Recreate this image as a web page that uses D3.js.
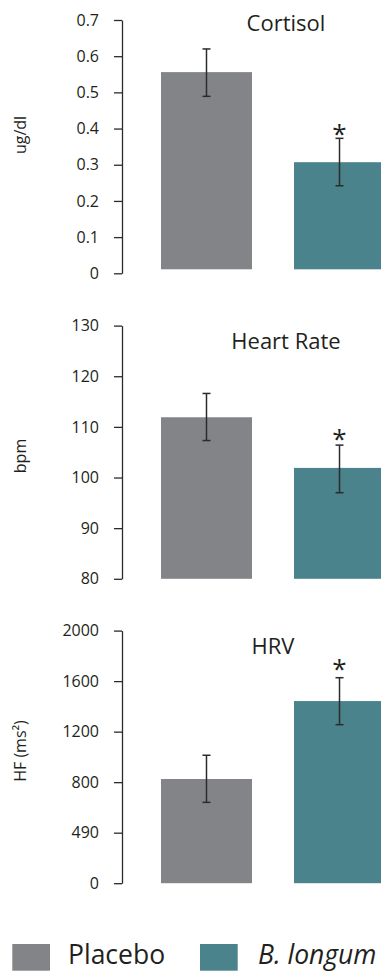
<!DOCTYPE html>
<html>
<head>
<meta charset="utf-8">
<script src="https://cdn.jsdelivr.net/npm/d3@7"></script>
<style>
  html, body { margin: 0; padding: 0; background: #fff; }
  svg { display: block; }
  text { font-family: "Open Sans", sans-serif; fill: #231f20; }
</style>
</head>
<body>
<svg id="chart" width="381" height="971"></svg>
<script>
// ---------- DATA ----------
const groups = ["Placebo", "B. longum"];
const panelTitles = ["Cortisol", "Heart Rate", "HRV"];
const yAxisLabels = ["ug/dl", "bpm", "HF (ms²)"];

const cortisolMean = [0.556, 0.307];
const cortisolLow  = [0.489, 0.242];
const cortisolHigh = [0.620, 0.373];

const heartRateMean = [111.9, 101.9];
const heartRateLow  = [107.3, 97.0];
const heartRateHigh = [116.6, 106.4];

const hrvMean = [825, 1442];
const hrvLow  = [640, 1255];
const hrvHigh = [1013, 1627];

const significant = [false, true];

const cortisolTicks = [0, 0.1, 0.2, 0.3, 0.4, 0.5, 0.6, 0.7];
const cortisolTickLabels = ["0", "0.1", "0.2", "0.3", "0.4", "0.5", "0.6", "0.7"];
const heartRateTicks = [80, 90, 100, 110, 120, 130];
const heartRateTickLabels = ["80", "90", "100", "110", "120", "130"];
const hrvTicks = [0, 400, 800, 1200, 1600, 2000];
const hrvTickLabels = ["0", "490", "800", "1200", "1600", "2000"];

// ---------- LAYOUT / STYLE ----------
const colors = ["#838488", "#4a838b"];
const panels = [
  { mean: cortisolMean, low: cortisolLow, high: cortisolHigh, ticks: cortisolTicks, labels: cortisolTickLabels,
    top: 20, bottom: 273.3, inset: 4, titleX: 286, titleY: 31, labelY: 135, starGap: 1 },
  { mean: heartRateMean, low: heartRateLow, high: heartRateHigh, ticks: heartRateTicks, labels: heartRateTickLabels,
    top: 325.6, bottom: 578.8, inset: 0, titleX: 286, titleY: 349, labelY: 456, starGap: 3.5 },
  { mean: hrvMean, low: hrvLow, high: hrvHigh, ticks: hrvTicks, labels: hrvTickLabels,
    top: 630.6, bottom: 883.2, inset: 0, titleX: 273, titleY: 654, labelY: 751, starGap: 6 }
];
const axisX = 122;

const svg = d3.select("#chart");

const x = d3.scaleBand().domain(groups).range([161, 385]).paddingInner(0.316).paddingOuter(0);

panels.forEach((p, pi) => {
  const y = d3.scaleLinear()
    .domain([p.ticks[0], p.ticks[p.ticks.length - 1]])
    .range([p.bottom, p.top]);

  const g = svg.append("g");

  // axis
  const axis = d3.axisLeft(y)
    .tickValues(p.ticks)
    .tickFormat((d, i) => p.labels[i])
    .tickSize(8)
    .tickSizeOuter(0)
    .tickPadding(15);
  const ag = g.append("g").attr("transform", `translate(${axisX},0)`).call(axis);
  ag.select(".domain").attr("stroke", "#2b2b2b").attr("stroke-width", 1.3);
  ag.selectAll(".tick line").attr("stroke", "#2b2b2b").attr("stroke-width", 1.3);
  ag.selectAll(".tick text")
    .attr("font-family", "Open Sans, sans-serif")
    .attr("font-size", 16)
    .attr("fill", "#231f20");

  // y label
  g.append("text")
    .attr("transform", `translate(26,${p.labelY}) rotate(-90)`)
    .attr("text-anchor", "middle")
    .attr("font-size", 16)
    .text(yAxisLabels[pi]);

  // title
  g.append("text")
    .attr("x", p.titleX)
    .attr("y", p.titleY)
    .attr("text-anchor", "middle")
    .attr("font-size", 22)
    .text(panelTitles[pi]);

  // bars
  const base = y(p.ticks[0]) - p.inset;
  g.selectAll("rect.bar")
    .data(groups)
    .join("rect")
    .attr("class", "bar")
    .attr("x", d => x(d))
    .attr("width", x.bandwidth())
    .attr("y", (d, i) => y(p.mean[i]))
    .attr("height", (d, i) => base - y(p.mean[i]))
    .attr("fill", (d, i) => colors[i]);

  // error bars
  const eg = g.selectAll("g.err").data(groups).join("g").attr("class", "err");
  const cx = d => x(d) + x.bandwidth() / 2;
  eg.append("line")
    .attr("x1", cx).attr("x2", cx)
    .attr("y1", (d, i) => y(p.low[i])).attr("y2", (d, i) => y(p.high[i]));
  eg.append("line")
    .attr("x1", d => cx(d) - 4).attr("x2", d => cx(d) + 4)
    .attr("y1", (d, i) => y(p.high[i])).attr("y2", (d, i) => y(p.high[i]));
  eg.append("line")
    .attr("x1", d => cx(d) - 4).attr("x2", d => cx(d) + 4)
    .attr("y1", (d, i) => y(p.low[i])).attr("y2", (d, i) => y(p.low[i]));
  eg.selectAll("line").attr("stroke", "#2b2b2b").attr("stroke-width", 1.5);

  // significance stars
  g.selectAll("text.star")
    .data(groups.filter((d, i) => significant[i]))
    .join("text")
    .attr("class", "star")
    .attr("x", d => cx(d))
    .attr("y", d => y(p.high[groups.indexOf(d)]) + 6 - p.starGap)
    .attr("text-anchor", "middle")
    .attr("font-size", 26)
    .text("*");
});

// legend
const legend = svg.append("g");
const legendX = [12.3, 200];
const legendTextX = [68, 258];
groups.forEach((gname, i) => {
  legend.append("rect")
    .attr("x", legendX[i]).attr("y", 944)
    .attr("width", 37.7).attr("height", 26.7)
    .attr("fill", colors[i]);
  legend.append("text")
    .attr("x", legendTextX[i]).attr("y", 964)
    .attr("font-size", 26.5)
    .attr("font-style", i === 1 ? "italic" : "normal")
    .text(gname);
});
</script>
</body>
</html>
